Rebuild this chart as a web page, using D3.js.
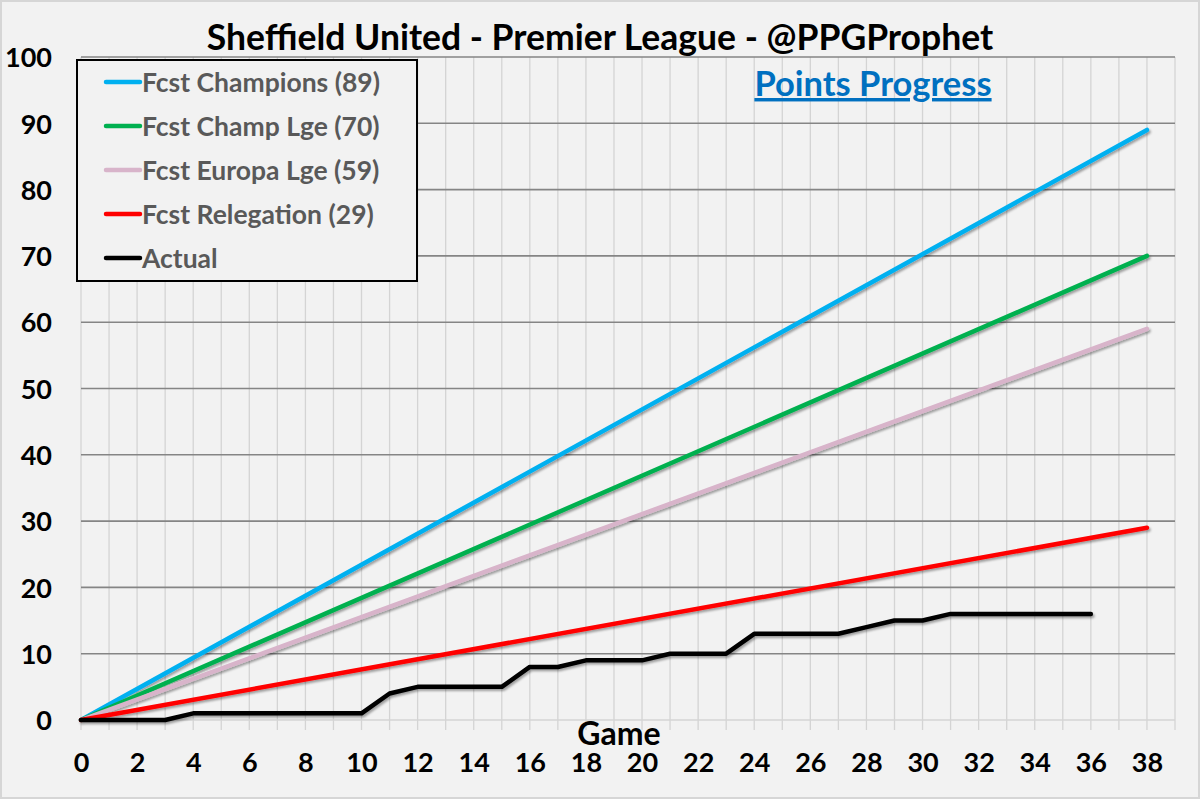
<!DOCTYPE html>
<html><head><meta charset="utf-8">
<script src="https://cdn.jsdelivr.net/npm/d3@7"></script>
<style>html,body{margin:0;padding:0;background:#f2f2f2;}svg{display:block;}</style>
</head><body><svg id="c" width="1200" height="799"></svg>
<script>
// ---- data ----
const fcstGames = [0, 38];
const champions = [0, 89];
const champLge = [0, 70];
const europaLge = [0, 59];
const relegation = [0, 29];
const actualGames = [0,1,2,3,4,5,6,7,8,9,10,11,12,13,14,15,16,17,18,19,20,21,22,23,24,25,26,27,28,29,30,31,32,33,34,35,36];
const actual = [0,0,0,0,1,1,1,1,1,1,1,4,5,5,5,5,8,8,9,9,9,10,10,10,13,13,13,13,14,15,15,16,16,16,16,16,16];
const xTickLabels = [0,2,4,6,8,10,12,14,16,18,20,22,24,26,28,30,32,34,36,38];
const yTickLabels = [0,10,20,30,40,50,60,70,80,90,100];
const seriesNames = ["Fcst Champions (89)","Fcst Champ Lge (70)","Fcst Europa Lge (59)","Fcst Relegation (29)","Actual"];
const seriesColors = ["#00B0F0","#00B050","#D8B4CA","#FF0000","#000000"];

const svg = d3.select("#c");
const W = 1200, H = 799;
const FONT = "Lato, 'Open Sans', sans-serif";

svg.append("rect").attr("x",1).attr("y",1).attr("width",W-2).attr("height",H-2)
  .attr("fill","#f2f2f2").attr("stroke","#d6d6d6").attr("stroke-width",2);

const defs = svg.append("defs");
const f = defs.append("filter").attr("id","sh").attr("x","-5%").attr("y","-5%").attr("width","110%").attr("height","120%");
f.append("feDropShadow").attr("dx",1.5).attr("dy",2).attr("stdDeviation",1.2).attr("flood-color","#000").attr("flood-opacity",0.35);

const x = d3.scaleLinear().domain([0,39]).range([81,1175]);
const y = d3.scaleLinear().domain([0,100]).range([720,57]);

// vertical grid (every game) with tick extension
svg.append("g").selectAll("line").data(d3.range(0,40)).join("line")
  .attr("x1",d=>x(d)).attr("x2",d=>x(d)).attr("y1",y(100)).attr("y2",730)
  .attr("stroke","#d4d4d4").attr("stroke-width",1.3);
// zero line
svg.append("line").attr("x1",x(0)).attr("x2",x(39)).attr("y1",y(0)).attr("y2",y(0))
  .attr("stroke","#d4d4d4").attr("stroke-width",1.5);
// horizontal grid
svg.append("g").selectAll("line").data(yTickLabels.filter(d=>d>0)).join("line")
  .attr("x1",x(0)).attr("x2",x(39)).attr("y1",d=>y(d)).attr("y2",d=>y(d))
  .attr("stroke","#858585").attr("stroke-width",1.6);

// axes labels via d3 axes
const yAxis = d3.axisLeft(y).tickValues(yTickLabels).tickSize(0).tickPadding(0);
const ya = svg.append("g").attr("transform","translate(52,0)").call(yAxis);
ya.select(".domain").remove();
ya.selectAll("text").attr("font-family",FONT).attr("font-weight","bold").attr("font-size",27).attr("fill","#000").attr("dy","0.36em");

const xAxis = d3.axisBottom(x).tickValues(xTickLabels).tickSize(0).tickPadding(0);
const xa = svg.append("g").attr("transform","translate(0,772)").call(xAxis);
xa.select(".domain").remove();
xa.selectAll("text").attr("font-family",FONT).attr("font-weight","bold").attr("font-size",27).attr("fill","#000").attr("y",0).attr("dy","0");

// lines
const line = d3.line().x(d=>x(d[0])).y(d=>y(d[1]));
const fcst = [champions, champLge, europaLge, relegation];
const lg = svg.append("g").attr("filter","url(#sh)");
fcst.forEach((vals,i)=>{
  lg.append("path").datum(fcstGames.map((g,j)=>[g,vals[j]])).attr("d",line)
    .attr("fill","none").attr("stroke",seriesColors[i]).attr("stroke-width",4.5).attr("stroke-linecap","round");
});
lg.append("path").datum(actualGames.map((g,j)=>[g,actual[j]])).attr("d",line)
  .attr("fill","none").attr("stroke",seriesColors[4]).attr("stroke-width",4.5).attr("stroke-linecap","round").attr("stroke-linejoin","round");

// title
svg.append("text").attr("x",600).attr("y",50).attr("text-anchor","middle")
  .attr("font-family",FONT).attr("font-weight","bold").attr("font-size",35.5).attr("fill","#000")
  .text("Sheffield United - Premier League - @PPGProphet");
svg.append("text").attr("x",873).attr("y",96).attr("text-anchor","middle")
  .attr("font-family",FONT).attr("font-weight","bold").attr("font-size",34.5).attr("fill","#0070C0")
  .attr("text-decoration","underline")
  .text("Points Progress");
// axis title
svg.append("text").attr("x",619).attr("y",745).attr("text-anchor","middle")
  .attr("font-family",FONT).attr("font-weight","bold").attr("font-size",32).attr("fill","#000")
  .text("Game");

// legend
const leg = svg.append("g");
leg.append("rect").attr("x",77).attr("y",60).attr("width",340).attr("height",221)
  .attr("fill","#f2f2f2").attr("stroke","#000").attr("stroke-width",2);
const rowY = d3.scalePoint().domain(seriesNames).range([82,258]);
seriesNames.forEach((n,i)=>{
  leg.append("line").attr("x1",106).attr("x2",140).attr("y1",rowY(n)).attr("y2",rowY(n))
    .attr("stroke",seriesColors[i]).attr("stroke-width",4.5).attr("stroke-linecap","round");
  leg.append("text").attr("x",142).attr("y",rowY(n)).attr("dy","0.36em")
    .attr("font-family",FONT).attr("font-weight","bold").attr("font-size",26.5).attr("fill","#595959")
    .text(n);
});
</script></body></html>
